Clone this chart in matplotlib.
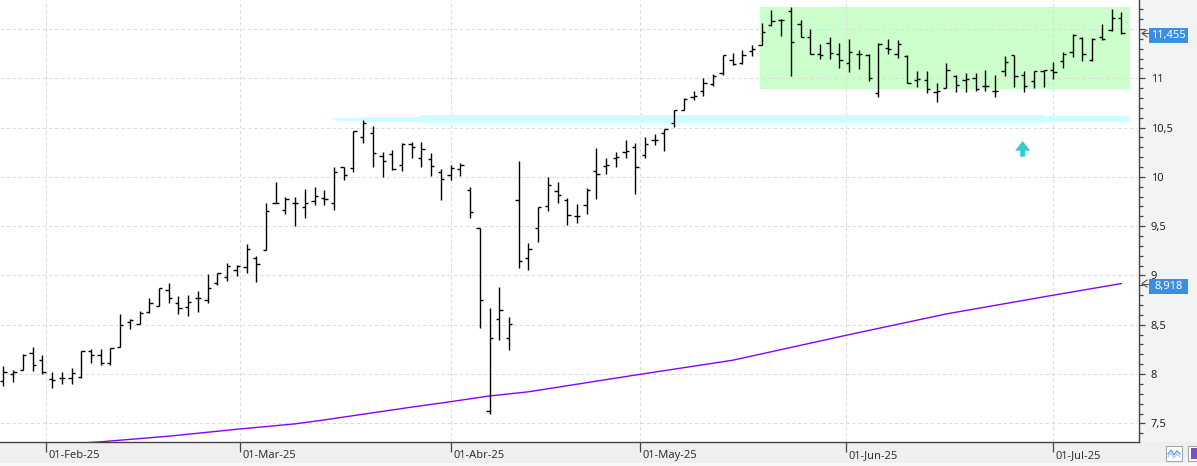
import numpy as np
import pandas as pd
import matplotlib
matplotlib.use('Agg')
import matplotlib.pyplot as plt
from matplotlib import transforms
from matplotlib.lines import Line2D
from matplotlib.patches import Rectangle, FancyArrow
from matplotlib.ticker import MultipleLocator, FuncFormatter

plt.rcParams['font.family'] = ['Noto Sans', 'DejaVu Sans']

# trading days (Spanish market: Good Friday, Easter Monday, 1 May closed)
dates = pd.bdate_range('2025-01-27', '2025-07-10')
dates = dates.drop(pd.to_datetime(['2025-04-18', '2025-04-21', '2025-05-01']))

opens = [7.93, 8.00, 8.04, 8.21, 8.14, 7.95, 7.96, 7.96, 7.97, 8.23,
         8.19, 8.11, 8.27, 8.53, 8.51, 8.63, 8.69, 8.85, 8.72, 8.68,
         8.77, 8.75, 8.92, 8.98, 9.06, 9.09, 9.18, 9.26, 9.74, 9.66,
         9.74, 9.69, 9.76, 9.79, 9.73, 10.10, 10.09, 10.40, 10.45, 10.21,
         10.23, 10.12, 10.33, 10.19, 10.18, 10.05, 10.02, 10.08, 9.87, 9.48,
         7.63, 8.56, 8.37, 9.77, 9.18, 9.48, 9.70, 9.86, 9.77, 9.60,
         9.71, 10.06, 10.11, 10.19, 10.25, 10.30, 10.22, 10.37, 10.44, 10.55,
         10.68, 10.81, 10.87, 10.94, 11.05, 11.19, 11.16, 11.28, 11.34, 11.54,
         11.59, 11.68, 11.55, 11.42, 11.25, 11.36, 11.25, 11.16, 11.25, 11.24,
         10.85, 11.31, 11.25, 11.23, 10.98, 10.98, 10.86, 10.90, 11.02, 10.98,
         11.00, 10.92, 10.87, 11.07, 11.24, 11.03, 10.97, 11.07, 11.08, 11.18,
         11.27, 11.41, 11.19, 11.42, 11.49, 11.61]
highs = [8.08, 8.04, 8.20, 8.27, 8.19, 8.02, 8.02, 8.06, 8.23, 8.25,
         8.25, 8.26, 8.61, 8.56, 8.64, 8.77, 8.87, 8.92, 8.79, 8.80,
         8.84, 9.01, 9.03, 9.13, 9.11, 9.32, 9.20, 9.74, 9.95, 9.80,
         9.80, 9.88, 9.90, 9.87, 10.10, 10.10, 10.47, 10.58, 10.52, 10.25,
         10.27, 10.34, 10.35, 10.35, 10.24, 10.08, 10.12, 10.14, 9.90, 9.48,
         8.67, 8.88, 8.58, 10.16, 9.33, 9.69, 10.00, 9.95, 9.79, 9.72,
         9.89, 10.29, 10.19, 10.25, 10.37, 10.34, 10.40, 10.43, 10.49, 10.68,
         10.80, 10.87, 11.00, 11.04, 11.24, 11.26, 11.29, 11.34, 11.56, 11.69,
         11.60, 11.72, 11.59, 11.50, 11.35, 11.42, 11.36, 11.40, 11.29, 11.25,
         11.36, 11.40, 11.39, 11.24, 11.07, 11.07, 10.95, 11.16, 11.03, 11.05,
         11.05, 11.08, 11.03, 11.23, 11.24, 11.07, 11.07, 11.08, 11.17, 11.27,
         11.45, 11.42, 11.41, 11.55, 11.70, 11.67]
lows = [7.88, 7.92, 8.04, 8.03, 8.00, 7.86, 7.90, 7.90, 7.96, 8.11,
        8.09, 8.09, 8.27, 8.46, 8.51, 8.62, 8.69, 8.72, 8.61, 8.59,
        8.63, 8.72, 8.90, 8.94, 8.99, 9.03, 8.93, 9.26, 9.73, 9.62,
        9.50, 9.58, 9.71, 9.71, 9.66, 9.97, 10.05, 10.34, 10.10, 10.00,
        10.07, 10.06, 10.19, 10.10, 10.01, 9.77, 9.97, 10.01, 9.58, 8.47,
        7.59, 8.35, 8.24, 9.08, 9.06, 9.34, 9.65, 9.73, 9.51, 9.53,
        9.62, 9.78, 10.03, 10.10, 10.19, 9.83, 10.19, 10.32, 10.26, 10.51,
        10.68, 10.78, 10.82, 10.92, 11.03, 11.13, 11.14, 11.23, 11.34, 11.53,
        11.43, 11.02, 11.42, 11.25, 11.20, 11.20, 11.10, 11.06, 11.09, 10.97,
        10.81, 11.25, 11.21, 10.95, 10.91, 10.85, 10.76, 10.90, 10.86, 10.86,
        10.87, 10.87, 10.81, 11.02, 10.91, 10.86, 10.90, 10.91, 10.99, 11.10,
        11.22, 11.18, 11.18, 11.39, 11.48, 11.45]
closes = [8.02, 8.02, 8.19, 8.09, 8.02, 7.94, 7.96, 8.01, 8.23, 8.19,
          8.11, 8.26, 8.50, 8.55, 8.62, 8.72, 8.87, 8.77, 8.67, 8.73,
          8.77, 8.87, 9.03, 9.10, 9.10, 9.27, 9.12, 9.65, 9.74, 9.78,
          9.73, 9.74, 9.81, 9.78, 10.05, 10.02, 10.47, 10.55, 10.24, 10.16,
          10.08, 10.33, 10.30, 10.28, 10.11, 9.98, 10.09, 10.12, 9.64, 8.75,
          8.37, 8.65, 8.51, 9.15, 9.27, 9.69, 9.92, 9.82, 9.61, 9.60,
          9.87, 10.03, 10.12, 10.20, 10.26, 10.10, 10.33, 10.37, 10.49, 10.68,
          10.79, 10.82, 10.95, 11.02, 11.24, 11.14, 11.24, 11.30, 11.47, 11.58,
          11.59, 11.37, 11.42, 11.25, 11.24, 11.26, 11.19, 11.27, 11.25, 11.00,
          11.35, 11.30, 11.35, 10.95, 10.99, 10.89, 10.87, 11.08, 10.93, 10.99,
          10.89, 10.92, 10.87, 11.17, 11.02, 10.92, 11.07, 11.08, 11.06, 11.25,
          11.44, 11.25, 11.40, 11.40, 11.61, 11.455]

# moving average (violet), read at a few bars
ma_idx = [8, 10, 17, 24, 30, 33, 42, 46, 50, 54, 65, 75, 87, 97, 108, 115]
ma_val = [7.30, 7.313, 7.37, 7.44, 7.495, 7.535, 7.665, 7.72, 7.778, 7.82,
          7.99, 8.14, 8.40, 8.61, 8.80, 8.918]

# green range box and cyan support band
box_x = [77.8, 115.9]
box_y = [10.89, 11.72]
band_x = [33.9, 34.3, 37.0, 42.9, 107.0, 115.9]
band_lo = [10.577, 10.570, 10.557, 10.547, 10.556, 10.556]
band_hi = [10.587, 10.600, 10.611, 10.623, 10.613, 10.613]

arrow_x = 104.85
arrow_y = [10.205, 10.364]

month_starts = pd.to_datetime(['2025-02-01', '2025-03-01', '2025-04-01',
                               '2025-05-01', '2025-06-01', '2025-07-01'])
month_labels = ['01-Feb-25', '01-Mar-25', '01-Abr-25', '01-May-25',
                '01-Jun-25', '01-Jul-25']

last_labels = [11.455, 8.918]

W, H = 1197, 466
fig = plt.figure(figsize=(W / 100, H / 100), dpi=100)
fig.patch.set_facecolor('#efefef')
fig.add_artist(Rectangle((1139 / W, 24 / H), 58 / W, 442 / H, transform=fig.transFigure,
                         fc='#f2f3f5', ec='none', zorder=0))
fig.add_artist(Rectangle((0, 0), 1, 3.5 / H, transform=fig.transFigure,
                         fc='#f8f8f8', ec='none', zorder=0))

ax = fig.add_axes([0, 24 / H, 1139 / W, 442 / H])
ax.set_facecolor('white')

n = len(dates)
x = np.arange(n)
tick_pos = np.interp(month_starts.asi8, dates.asi8, x)

ax.add_patch(Rectangle((box_x[0], box_y[0]), box_x[1] - box_x[0], box_y[1] - box_y[0],
                       fc='#ccffcc', ec='none', zorder=1))
ax.fill_between(band_x, band_lo, band_hi, step='post', color='#ccffff', lw=0, zorder=2.6)

ax.plot(ma_idx, ma_val, color='#8800ff', lw=1.0, zorder=2.7)

ax.vlines(x, lows, highs, color='black', lw=1.0, zorder=3)
ax.hlines(opens, x - 0.34, x, color='black', lw=1.0, zorder=3)
ax.hlines(closes, x, x + 0.34, color='black', lw=1.0, zorder=3)

ax.add_patch(FancyArrow(arrow_x, arrow_y[0], 0, arrow_y[1] - arrow_y[0], width=0.5,
                        head_width=1.55, head_length=0.098, length_includes_head=True,
                        fc='#33cccc', ec='none', zorder=3))

ax.set_xlim(-0.36, 116.82)
ax.set_ylim(7.311, 11.794)
ax.set_axisbelow(False)

# grid
ax.set_xticks(tick_pos)
ax.set_xticklabels([])
ax.yaxis.tick_right()
ax.yaxis.set_major_locator(MultipleLocator(0.5))
ax.yaxis.set_minor_locator(MultipleLocator(0.1))
# the 11,5 label sits under the last-price box, so it is left blank
ax.yaxis.set_major_formatter(FuncFormatter(
    lambda v, p: '' if abs(v - 11.5) < 1e-6 else f'{v:g}'.replace('.', ',')))
ax.grid(True, which='major', color='#dcdcdc', lw=0.75, linestyle=(0, (3.2, 2.6)))

for s in ['left', 'top']:
    ax.spines[s].set_visible(False)
for s in ['right', 'bottom']:
    ax.spines[s].set_color('#444444')
    ax.spines[s].set_linewidth(1.0)

ax.tick_params(axis='y', which='major', direction='out', length=4.3, width=0.9,
               color='#444444', pad=4.3, labelsize=8, labelcolor='#222222')
ax.tick_params(axis='y', which='minor', direction='out', length=2.9, width=0.9,
               color='#444444')
ax.tick_params(axis='x', which='major', direction='out', length=7.2, width=0.9,
               color='#444444')

lab_tr = transforms.blended_transform_factory(ax.transData, ax.transAxes) + \
    transforms.ScaledTranslation(2.5 / 100, -13.5 / 100, fig.dpi_scale_trans)
for p, lab in zip(tick_pos, month_labels):
    ax.text(p, 0, lab, transform=lab_tr, ha='left', va='center', fontsize=8,
            color='#333333', clip_on=False)

# last-value labels on the price scale
tr = transforms.blended_transform_factory(fig.transFigure, ax.transData)
for v in last_labels:
    fig.add_artist(Rectangle((1149 / W, v - 0.025 - 0.076), 39 / W, 0.152, transform=tr,
                             fc='#3d8ee2', ec='none', zorder=3))
    fig.text(1168.5 / W, v - 0.025, f'{v:.3f}'.replace('.', ','), transform=tr,
             ha='center', va='center', fontsize=8, color='white', zorder=4)
    fig.add_artist(Line2D([1147 / W, 1142 / W, 1147 / W], [v + 0.035, v, v - 0.035],
                          transform=tr, color='#555555', lw=0.8, zorder=4))
    fig.add_artist(Line2D([1142 / W, 1148 / W], [v, v], transform=tr,
                          color='#555555', lw=0.8, zorder=4))

# toolbar buttons bottom right
fig.add_artist(Rectangle((1165.7 / W, 5 / H), 16.6 / W, 15.3 / H, transform=fig.transFigure,
                         fc='white', ec='#a8a8a8', lw=0.8, zorder=3))
fig.add_artist(Line2D(np.array([1168, 1171, 1174, 1177, 1180]) / W,
                      np.array([12, 16, 11, 15, 12]) / H, transform=fig.transFigure,
                      color='#5a9fe0', lw=0.9, zorder=4))
fig.add_artist(Line2D(np.array([1168, 1171, 1174, 1177, 1180]) / W,
                      np.array([9, 13, 8, 12, 9]) / H, transform=fig.transFigure,
                      color='#a9cdf0', lw=0.9, zorder=4))
fig.add_artist(Rectangle((1188 / W, 5 / H), 12 / W, 15.3 / H, transform=fig.transFigure,
                         fc='white', ec='#a8a8a8', lw=0.8, zorder=3))
fig.add_artist(Rectangle((1191 / W, 7 / H), 9 / W, 11 / H, transform=fig.transFigure,
                         fc='#7d4fc8', ec='none', zorder=4))

fig.savefig('out.png', dpi=100, facecolor=fig.get_facecolor())
